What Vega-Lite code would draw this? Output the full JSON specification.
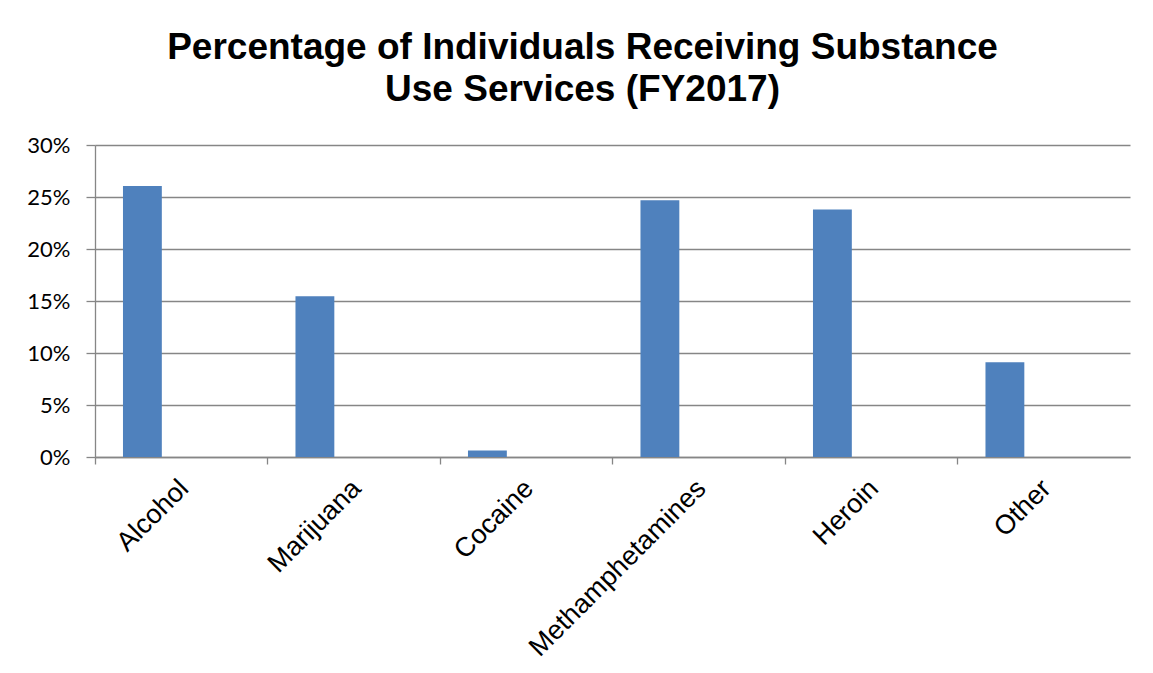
{
  "$schema": "https://vega.github.io/schema/vega-lite/v6.json",
  "autosize": "none",
  "width": 1035,
  "height": 312,
  "padding": {"left": 95, "top": 145, "right": 23, "bottom": 216},
  "background": "white",
  "title": {
    "text": ["Percentage of Individuals Receiving Substance", "Use Services (FY2017)"],
    "font": "Liberation Sans",
    "fontSize": 37,
    "fontWeight": "bold",
    "color": "black",
    "anchor": "middle",
    "baseline": "bottom",
    "lineHeight": 42,
    "offset": 25,
    "dy": 37,
    "dx": -30
  },
  "data": {
    "values": [
      {"substance": "Alcohol", "series": "A", "pct": 0.2606},
      {"substance": "Marijuana", "series": "A", "pct": 0.1545},
      {"substance": "Cocaine", "series": "A", "pct": 0.0062},
      {"substance": "Methamphetamines", "series": "A", "pct": 0.2468},
      {"substance": "Heroin", "series": "A", "pct": 0.2379},
      {"substance": "Other", "series": "A", "pct": 0.091}
    ]
  },
  "mark": {"type": "bar", "color": "#4F81BD"},
  "encoding": {
    "x": {
      "field": "substance",
      "type": "nominal",
      "sort": null,
      "title": null,
      "scale": {"paddingInner": 0, "paddingOuter": 0},
      "axis": {
        "bandPosition": 0,
        "domainColor": "#868686",
        "domainWidth": 1.3,
        "tickColor": "#868686",
        "tickWidth": 1.3,
        "tickSize": 7,
        "labelAngle": -45,
        "labelAlign": "right",
        "labelBaseline": "middle",
        "labelOffset": 3,
        "labelPadding": 20,
        "labelFont": "Liberation Sans",
        "labelFontSize": 27,
        "labelColor": "black",
        "labelLimit": 0,
        "labelBound": false,
        "labelOverlap": false,
        "labelFlush": false,
        "grid": false
      }
    },
    "xOffset": {
      "field": "series",
      "type": "nominal",
      "scale": {"domain": ["A", "B", "C"], "paddingInner": 0, "paddingOuter": 0.72}
    },
    "y": {
      "field": "pct",
      "type": "quantitative",
      "title": null,
      "scale": {"domain": [0, 0.3], "nice": false},
      "axis": {
        "values": [0, 0.05, 0.1, 0.15, 0.2, 0.25, 0.3],
        "format": ".0%",
        "domainColor": "#868686",
        "domainWidth": 1.3,
        "tickColor": "#868686",
        "tickWidth": 1.3,
        "tickSize": 9,
        "labelPadding": 16,
        "labelFont": "Lato",
        "labelFontSize": 22,
        "labelColor": "black",
        "grid": true,
        "gridColor": "#868686",
        "gridWidth": 1.3
      }
    }
  },
  "config": {"view": {"stroke": null}}
}
